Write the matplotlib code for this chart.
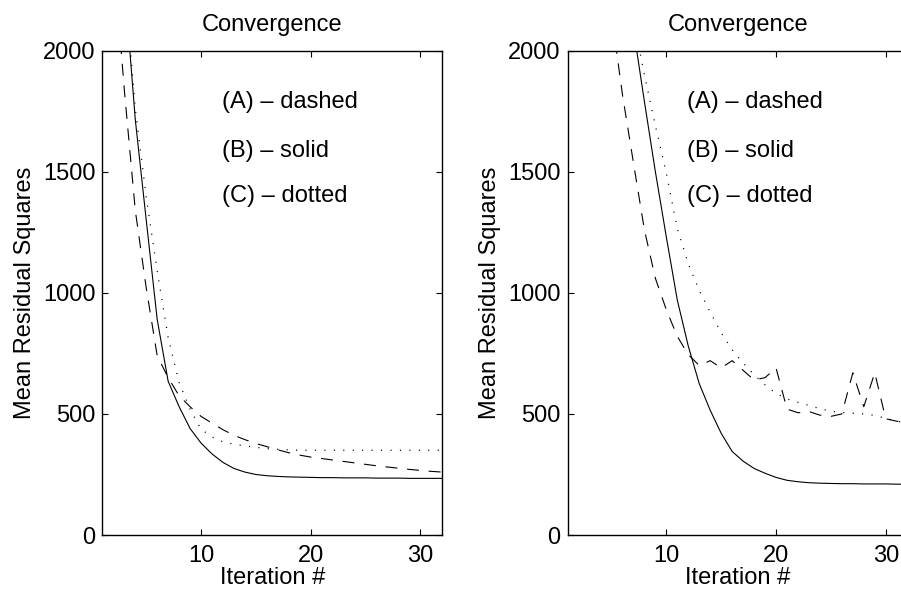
import numpy as np
import matplotlib.pyplot as plt

plt.rcParams['font.family'] = ['Liberation Sans', 'DejaVu Sans']
plt.rcParams['lines.scale_dashes'] = False

# iteration numbers
iters = np.arange(2, 33)

# left panel
left_A = [2400, 1837, 1340, 1020, 740, 650, 575, 530, 490, 462, 435, 412, 394, 378, 365,
          352, 340, 330, 322, 316, 310, 304, 298, 292, 286, 281, 276, 271, 267, 263, 260]
left_B = [2900, 2285, 1715, 1300, 890, 635, 530, 440, 380, 335, 300, 275, 260, 250, 245,
          242, 240, 239, 238, 237, 237, 236, 236, 236, 235, 235, 235, 234, 234, 234, 234]
left_C = [2900, 2300, 1760, 1395, 1090, 815, 630, 520, 437, 405, 385, 375, 368, 362, 357,
          354, 352, 350, 350, 350, 350, 350, 350, 350, 350, 350, 350, 350, 350, 350, 350]

# right panel
right_A = [2900, 2700, 2450, 2150, 1818, 1537, 1260, 1060, 930, 820, 745, 700, 720, 690, 720,
           680, 640, 650, 690, 520, 505, 510, 495, 490, 500, 670, 530, 670, 480, 470, 465]
right_B = [3600, 3200, 2900, 2600, 2350, 2090, 1790, 1500, 1230, 970, 780, 625, 515, 420,
           345, 305, 275, 255, 238, 226, 220, 216, 214, 213, 212, 212, 211, 211, 211, 210, 210]
right_C = [3400, 3100, 2850, 2600, 2360, 2130, 1900, 1690, 1494, 1265, 1120, 1010, 920, 835,
           765, 710, 662, 620, 585, 562, 548, 535, 522, 511, 506, 503, 500, 494, 482, 470, 462]

legend_text = ['(A) \u2013 dashed', '(B) \u2013 solid', '(C) \u2013 dotted']
legend_y = [1790, 1585, 1400]
yticks = [0, 500, 1000, 1500, 2000]
xticks = [10, 20, 30]

dash = (0, (8.6, 7.0))
dot = (0, (0.8, 6.0))
fs = 17

fig = plt.figure(figsize=(9.01, 5.95), dpi=100)
ax1 = fig.add_axes([0.1137, 0.1008, 0.3768, 0.814])
ax2 = fig.add_axes([0.630, 0.1008, 0.3774, 0.814])

panels = [(ax1, left_A, left_B, left_C), (ax2, right_A, right_B, right_C)]
for ax, a, b, c in panels:
    ax.plot(iters, a, color='black', linestyle=dash, linewidth=0.8)
    ax.plot(iters, b, color='black', linestyle='-', linewidth=0.8)
    ax.plot(iters, c, color='black', linestyle=dot, linewidth=0.9)
    ax.set_xlim(1, 32)
    ax.set_ylim(0, 2000)
    ax.set_xticks(xticks)
    ax.set_yticks(yticks)
    ax.tick_params(direction='in', top=True, right=True, length=4, width=0.8,
                   labelsize=fs, pad=5)
    ax.tick_params(axis='x', pad=7)
    for s in ax.spines.values():
        s.set_linewidth(1.0)
    ax.set_title('Convergence', fontsize=fs, pad=14)
    ax.set_xlabel('Iteration #', fontsize=fs, labelpad=0)
    ax.set_ylabel('Mean Residual Squares', fontsize=fs, labelpad=5)
    for t, yv in zip(legend_text, legend_y):
        ax.text(11.9, yv, t, fontsize=fs, va='center', ha='left')

fig.savefig('out.png', dpi=100)
